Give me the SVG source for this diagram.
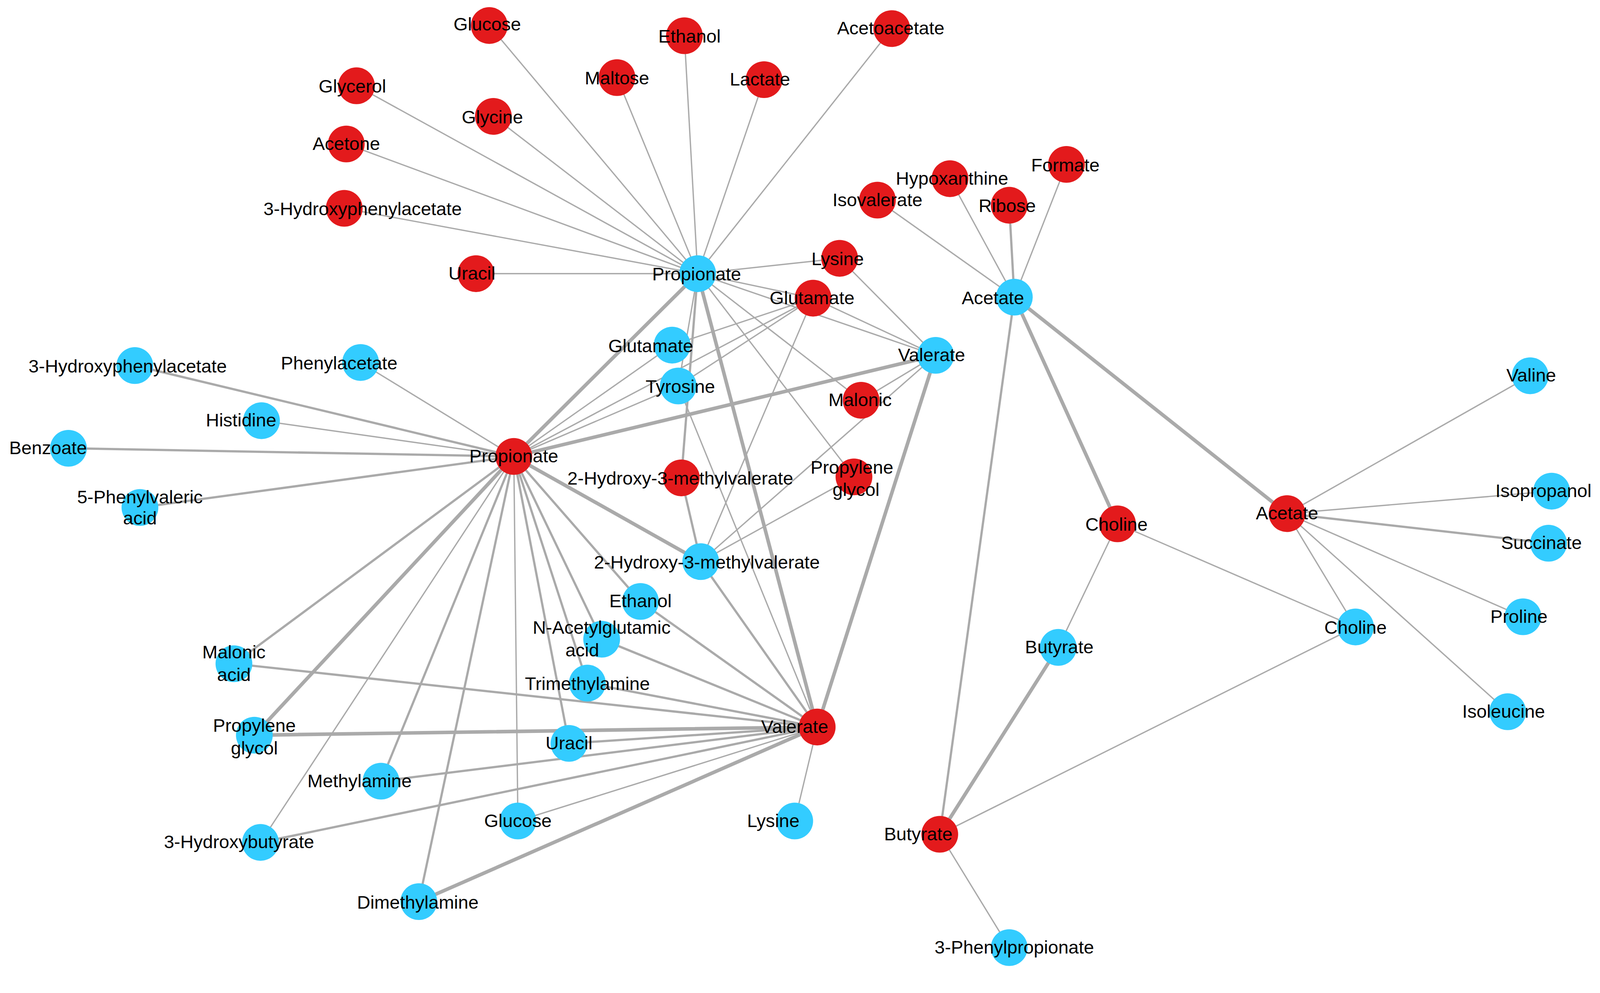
<svg xmlns="http://www.w3.org/2000/svg" width="4166" height="2543" viewBox="0 0 4166 2543">
<style>
.e{stroke:#aaaaaa;stroke-width:1.3;fill:none}
.t{stroke:#aaaaaa;stroke-width:3.5;fill:none}
.m{stroke:#aaaaaa;stroke-width:2.2;fill:none}
.r{fill:#e31a1c}
.b{fill:#33ccff}
text{font-family:"Liberation Sans",Arial,sans-serif;font-size:18px;fill:#000;text-anchor:middle;dominant-baseline:middle}
</style>
<rect width="4166" height="2543" fill="#fff"/>
<g transform="scale(2.615)">
<g id="edges">
<path class="e" d="M683,268L479,25M683,268L670,35M683,268L873,28M683,268L349,84M683,268L604,76M683,268L748,78M683,268L483,114M683,268L339,141M683,268L337,204M683,268L466,268M683,268L822,253M683,268L796,292M683,268L916,348M683,268L843,392M683,268L836,467M683,268L664,378"/>
<path class="m" d="M683,268L667,468"/>
<path class="t" d="M683,268L503,447M683,268L800,712"/>
<path class="e" d="M993,291L859,196M993,291L930,175M993,291L1044,161"/>
<path class="m" d="M993,291L988,201M993,291L920,817"/>
<path class="t" d="M993,291L1094,513M993,291L1260,503"/>
<path class="e" d="M916,348L822,253M916,348L796,292M916,348L843,392M916,348L686,550"/>
<path class="t" d="M916,348L503,447M916,348L800,712"/>
<path class="e" d="M796,292L658,338M796,292L664,378M796,292L686,550M796,292L503,447"/>
<path class="e" d="M836,467L686,550"/>
<path class="m" d="M667,468L686,550"/>
<path class="m" d="M503,447L132,358M503,447L67,439M503,447L137,497M503,447L229,650M503,447L373,765M503,447L410,883M503,447L557,728M503,447L589,626M503,447L575,669M503,447L627,589"/>
<path class="e" d="M503,447L353,355M503,447L256,412M503,447L658,338M503,447L664,378M503,447L255,825M503,447L507,804"/>
<path class="t" d="M503,447L686,550M503,447L249,720"/>
<path class="m" d="M800,712L589,626M800,712L575,669M800,712L229,650M800,712L557,728M800,712L373,765M800,712L255,825M800,712L686,550M800,712L627,589"/>
<path class="e" d="M800,712L507,804M800,712L778,804M800,712L664,378"/>
<path class="t" d="M800,712L249,720M800,712L410,883"/>
<path class="e" d="M1260,503L1498,368M1260,503L1519,481M1260,503L1491,604M1260,503L1476,697M1260,503L1327,614"/>
<path class="m" d="M1260,503L1516,532"/>
<path class="e" d="M1094,513L1036,634M1094,513L1327,614"/>
<path class="t" d="M920,817L1036,634"/>
<path class="e" d="M920,817L1327,614M920,817L988,928"/>
</g>
<g id="n1"><circle class="r" cx="479" cy="25" r="18"/><text x="477" y="25">Glucose</text></g>
<g id="n2"><circle class="r" cx="670" cy="35" r="18"/><text x="675" y="37">Ethanol</text></g>
<g id="n3"><circle class="r" cx="873" cy="28" r="18"/><text x="872" y="29">Acetoacetate</text></g>
<g id="n4"><circle class="r" cx="349" cy="84" r="18"/><text x="345" y="86">Glycerol</text></g>
<g id="n5"><circle class="r" cx="604" cy="76" r="18"/><text x="604" y="78">Maltose</text></g>
<g id="n6"><circle class="r" cx="748" cy="78" r="18"/><text x="744" y="79">Lactate</text></g>
<g id="n7"><circle class="r" cx="483" cy="114" r="18"/><text x="482" y="116">Glycine</text></g>
<g id="n8"><circle class="r" cx="339" cy="141" r="18"/><text x="339" y="142">Acetone</text></g>
<g id="n9"><circle class="r" cx="337" cy="204" r="18"/><text x="355" y="206">3-Hydroxyphenylacetate</text></g>
<g id="n10"><circle class="r" cx="466" cy="268" r="18"/><text x="462" y="269">Uracil</text></g>
<g id="n11"><circle class="r" cx="822" cy="253" r="18"/><text x="820" y="255">Lysine</text></g>
<g id="n12"><circle class="r" cx="796" cy="292" r="18"/><text x="795" y="293">Glutamate</text></g>
<g id="n13"><circle class="r" cx="859" cy="196" r="18"/><text x="859" y="197">Isovalerate</text></g>
<g id="n14"><circle class="r" cx="930" cy="175" r="18"/><text x="932" y="176">Hypoxanthine</text></g>
<g id="n15"><circle class="r" cx="988" cy="201" r="18"/><text x="986" y="203">Ribose</text></g>
<g id="n16"><circle class="r" cx="1044" cy="161" r="18"/><text x="1043" y="163">Formate</text></g>
<g id="n17"><circle class="r" cx="843" cy="392" r="18"/><text x="842" y="393">Malonic</text></g>
<g id="n18"><circle class="r" cx="836" cy="467" r="18"/><text x="834" y="459">Propylene</text><text x="838" y="481">glycol</text></g>
<g id="n19"><circle class="r" cx="667" cy="468" r="18"/><text x="666" y="470">2-Hydroxy-3-methylvalerate</text></g>
<g id="n20"><circle class="r" cx="503" cy="447" r="18"/><text x="503" y="448">Propionate</text></g>
<g id="n21"><circle class="r" cx="1094" cy="513" r="18"/><text x="1093" y="515">Choline</text></g>
<g id="n22"><circle class="r" cx="1260" cy="503" r="18"/><text x="1260" y="504">Acetate</text></g>
<g id="n23"><circle class="r" cx="800" cy="712" r="18"/><text x="778" y="713">Valerate</text></g>
<g id="n24"><circle class="r" cx="920" cy="817" r="18"/><text x="899" y="818">Butyrate</text></g>
<g id="n25"><circle class="b" cx="683" cy="268" r="18"/><text x="682" y="270">Propionate</text></g>
<g id="n26"><circle class="b" cx="993" cy="291" r="18"/><text x="972" y="293">Acetate</text></g>
<g id="n27"><circle class="b" cx="916" cy="348" r="18"/><text x="912" y="349">Valerate</text></g>
<g id="n28"><circle class="b" cx="658" cy="338" r="18"/><text x="637" y="340">Glutamate</text></g>
<g id="n29"><circle class="b" cx="664" cy="378" r="18"/><text x="666" y="380">Tyrosine</text></g>
<g id="n30"><circle class="b" cx="132" cy="358" r="18"/><text x="125" y="360">3-Hydroxyphenylacetate</text></g>
<g id="n31"><circle class="b" cx="353" cy="355" r="18"/><text x="332" y="357">Phenylacetate</text></g>
<g id="n32"><circle class="b" cx="256" cy="412" r="18"/><text x="236" y="413">Histidine</text></g>
<g id="n33"><circle class="b" cx="67" cy="439" r="18"/><text x="47" y="440">Benzoate</text></g>
<g id="n34"><circle class="b" cx="137" cy="497" r="18"/><text x="137" y="488">5-Phenylvaleric</text><text x="137" y="509">acid</text></g>
<g id="n35"><circle class="b" cx="686" cy="550" r="18"/><text x="692" y="552">2-Hydroxy-3-methylvalerate</text></g>
<g id="n36"><circle class="b" cx="627" cy="589" r="18"/><text x="627" y="590">Ethanol</text></g>
<g id="n37"><circle class="b" cx="589" cy="626" r="18"/><text x="589" y="616">N-Acetylglutamic</text><text x="570" y="638">acid</text></g>
<g id="n38"><circle class="b" cx="575" cy="669" r="18"/><text x="575" y="671">Trimethylamine</text></g>
<g id="n39"><circle class="b" cx="229" cy="650" r="18"/><text x="229" y="640">Malonic</text><text x="229" y="662">acid</text></g>
<g id="n40"><circle class="b" cx="249" cy="720" r="18"/><text x="249" y="712">Propylene</text><text x="249" y="734">glycol</text></g>
<g id="n41"><circle class="b" cx="557" cy="728" r="18"/><text x="557" y="729">Uracil</text></g>
<g id="n42"><circle class="b" cx="373" cy="765" r="18"/><text x="352" y="766">Methylamine</text></g>
<g id="n43"><circle class="b" cx="507" cy="804" r="18"/><text x="507" y="805">Glucose</text></g>
<g id="n44"><circle class="b" cx="778" cy="804" r="18"/><text x="757" y="805">Lysine</text></g>
<g id="n45"><circle class="b" cx="255" cy="825" r="18"/><text x="234" y="826">3-Hydroxybutyrate</text></g>
<g id="n46"><circle class="b" cx="410" cy="883" r="18"/><text x="409" y="885">Dimethylamine</text></g>
<g id="n47"><circle class="b" cx="1036" cy="634" r="18"/><text x="1037" y="635">Butyrate</text></g>
<g id="n48"><circle class="b" cx="1327" cy="614" r="18"/><text x="1327" y="616">Choline</text></g>
<g id="n49"><circle class="b" cx="1498" cy="368" r="18"/><text x="1499" y="369">Valine</text></g>
<g id="n50"><circle class="b" cx="1519" cy="481" r="18"/><text x="1511" y="482">Isopropanol</text></g>
<g id="n51"><circle class="b" cx="1516" cy="532" r="18"/><text x="1509" y="533">Succinate</text></g>
<g id="n52"><circle class="b" cx="1491" cy="604" r="18"/><text x="1487" y="605">Proline</text></g>
<g id="n53"><circle class="b" cx="1476" cy="697" r="18"/><text x="1472" y="698">Isoleucine</text></g>
<g id="n54"><circle class="b" cx="988" cy="928" r="18"/><text x="993" y="929">3-Phenylpropionate</text></g>
</g>
</svg>
